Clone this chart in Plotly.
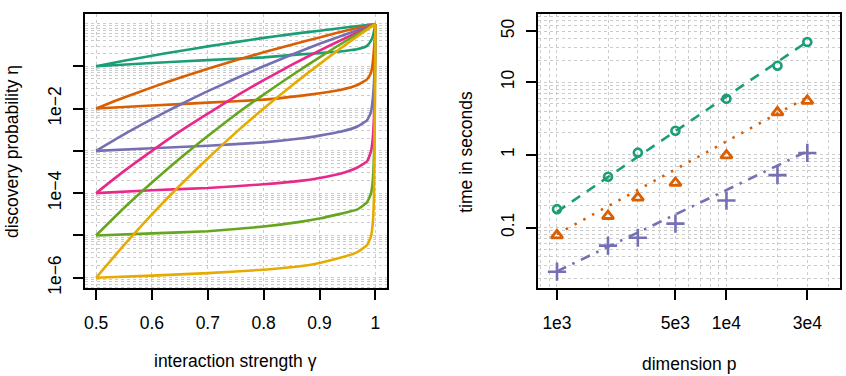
import plotly.graph_objects as go

# ---------------- data: left panel ----------------
gamma_upper = [0.5, 0.55, 0.6, 0.65, 0.7, 0.75, 0.8, 0.85, 0.9, 0.95, 1.0]
# log10 of discovery probability (upper curves)
up_teal   = [-1, -0.87, -0.75, -0.64, -0.53, -0.43, -0.33, -0.24, -0.16, -0.08, 0]
up_orange = [-2, -1.74, -1.50, -1.27, -1.06, -0.86, -0.67, -0.49, -0.32, -0.15, 0]
up_purple = [-3, -2.61, -2.25, -1.91, -1.59, -1.29, -1.00, -0.73, -0.47, -0.23, 0]
up_pink   = [-4, -3.48, -3.00, -2.54, -2.12, -1.71, -1.33, -0.97, -0.63, -0.31, 0]
up_green  = [-5, -4.35, -3.75, -3.18, -2.65, -2.14, -1.67, -1.22, -0.79, -0.38, 0]
up_yellow = [-6, -5.23, -4.50, -3.82, -3.18, -2.57, -2.00, -1.46, -0.95, -0.46, 0]

gamma_lower = [0.5, 0.6, 0.7, 0.8, 0.865, 0.9, 0.937, 0.967, 0.985, 0.992, 0.9953, 0.9975, 0.999, 1.0]
lo_teal   = [-1, -0.925, -0.855, -0.79, -0.72, -0.69, -0.65, -0.60, -0.52, -0.40, -0.30, -0.18, -0.08, 0]
lo_orange = [-2, -1.93, -1.86, -1.79, -1.70, -1.64, -1.56, -1.45, -1.31, -1.16, -0.92, -0.60, -0.35, 0]
lo_purple = [-3, -2.94, -2.88, -2.80, -2.71, -2.64, -2.55, -2.43, -2.28, -2.09, -1.78, -1.40, -0.90, 0]
lo_pink   = [-4, -3.93, -3.88, -3.79, -3.71, -3.64, -3.54, -3.40, -3.25, -3.02, -2.71, -2.20, -1.30, 0]
lo_green  = [-5, -4.95, -4.90, -4.79, -4.68, -4.60, -4.49, -4.39, -4.22, -4.02, -3.71, -3.10, -1.80, 0]
lo_yellow = [-6, -5.95, -5.89, -5.81, -5.73, -5.65, -5.53, -5.40, -5.23, -5.03, -4.72, -4.10, -2.20, 0]

colors = ["#1B9E77", "#D95F02", "#7570B3", "#E7298A", "#66A61E", "#E6AB02"]
upper = [up_teal, up_orange, up_purple, up_pink, up_green, up_yellow]
lower = [lo_teal, lo_orange, lo_purple, lo_pink, lo_green, lo_yellow]

left_yticks = [1e-6, 1e-5, 1e-4, 1e-3, 1e-2, 1e-1]
left_yticktext = ["1e\u22126", "", "1e\u22124", "", "1e\u22122", ""]
left_xticks = [0.5, 0.6, 0.7, 0.8, 0.9, 1.0]
left_xticktext = ["0.5", "0.6", "0.7", "0.8", "0.9", "1"]

# ---------------- data: right panel ----------------
dims = [1000, 2000, 3000, 5000, 10000, 20000, 30000]
time_teal   = [0.179, 0.50, 1.07, 2.14, 5.89, 16.8, 35.5]
time_orange = [0.078, 0.144, 0.257, 0.41, 0.98, 3.84, 5.53]
time_purple = [0.0247, 0.0564, 0.0723, 0.113, 0.235, 0.526, 1.06]
fit_dims = [1000, 30000]
fit_teal   = [0.165, 36.0]
fit_orange = [0.081, 6.2]
fit_purple = [0.025, 1.12]

right_xticks = [1000, 5000, 10000, 30000]
right_xticktext = ["1e3", "5e3", "1e4", "3e4"]
right_yticks = [0.1, 1, 10, 50]
right_yticktext = ["0.1", "1", "10", "50"]

# ---------------- figure ----------------
FONT = "Liberation Sans, Arial, sans-serif"
FS = 17.5
GRID = "#cbcbcb"
LW = 2.6

fig = go.Figure()

for c, u, l in zip(colors, upper, lower):
    fig.add_trace(go.Scatter(x=gamma_upper, y=[10 ** v for v in u], mode="lines",
                             line=dict(color=c, width=LW, shape="spline", smoothing=0.6),
                             xaxis="x", yaxis="y"))
    fig.add_trace(go.Scatter(x=gamma_lower, y=[10 ** v for v in l], mode="lines",
                             line=dict(color=c, width=LW, shape="spline", smoothing=0.4),
                             xaxis="x", yaxis="y"))

fig.add_trace(go.Scatter(x=fit_dims, y=fit_teal, mode="lines",
                         line=dict(color=colors[0], width=LW, dash="10px,8px"),
                         xaxis="x2", yaxis="y2"))
fig.add_trace(go.Scatter(x=fit_dims, y=fit_orange, mode="lines",
                         line=dict(color=colors[1], width=LW, dash="2.5px,7.5px"),
                         xaxis="x2", yaxis="y2"))
fig.add_trace(go.Scatter(x=fit_dims, y=fit_purple, mode="lines",
                         line=dict(color=colors[2], width=LW, dash="10px,7px,2.5px,7px"),
                         xaxis="x2", yaxis="y2"))
fig.add_trace(go.Scatter(x=dims, y=time_teal, mode="markers",
                         marker=dict(symbol="circle-open", size=8, color=colors[0],
                                     line=dict(width=2.6, color=colors[0])),
                         xaxis="x2", yaxis="y2"))
fig.add_trace(go.Scatter(x=dims, y=time_orange, mode="markers",
                         marker=dict(symbol="triangle-up-open", size=10, color=colors[1],
                                     line=dict(width=2.8, color=colors[1])),
                         xaxis="x2", yaxis="y2"))
fig.add_trace(go.Scatter(x=dims, y=time_purple, mode="markers",
                         marker=dict(symbol="cross-thin-open", size=13, color=colors[2],
                                     line=dict(width=2.6, color=colors[2])),
                         xaxis="x2", yaxis="y2"))

# grid positions (all k*10^n)
def log_grid(lo, hi):
    out = []
    for n in range(lo, hi + 1):
        for k in range(1, 10):
            out.append(k * 10.0 ** n)
    return out

W, H = 846, 376
ydom = [(H - 293) / H, (H - 14) / H]

axis_common = dict(showline=True, mirror=True, linecolor="black", linewidth=1.5,
                   ticks="outside", ticklen=10, tickwidth=1.5, tickcolor="black",
                   showgrid=True, gridcolor=GRID, griddash="3px,3px", gridwidth=1,
                   zeroline=False, tickfont=dict(family=FONT, size=FS, color="black"))
minor_common = dict(tickmode="array", showgrid=True, gridcolor=GRID,
                    griddash="3px,3px", gridwidth=1, ticklen=0)

fig.update_layout(
    width=W, height=H, margin=dict(l=0, r=0, t=0, b=0),
    paper_bgcolor="white", plot_bgcolor="white", showlegend=False,
    xaxis=dict(domain=[84 / W, 386 / W], range=[0.48, 1.02], tickmode="array",
               tickvals=left_xticks, ticktext=left_xticktext, anchor="y",
               ticklabelstandoff=8, **axis_common),
    yaxis=dict(domain=ydom, type="log", range=[-6.25, 0.24], tickmode="array",
               tickvals=left_yticks, ticktext=left_yticktext, tickangle=-90, anchor="x",
               ticklabelstandoff=5,
               minor=dict(tickvals=log_grid(-7, 0), **minor_common),
               **axis_common),
    xaxis2=dict(domain=[537.3 / W, 840 / W], type="log", range=[2.886, 4.670],
                tickmode="array", tickvals=right_xticks, ticktext=right_xticktext, anchor="y2",
                ticklabelstandoff=8,
                minor=dict(tickvals=log_grid(2, 4), **minor_common),
                **axis_common),
    yaxis2=dict(domain=ydom, type="log", range=[-1.836, 1.939], tickmode="array",
                tickvals=right_yticks, ticktext=right_yticktext, tickangle=-90, anchor="x2",
                ticklabelstandoff=5,
                minor=dict(tickvals=log_grid(-2, 1), **minor_common),
                **axis_common),
)

ann_font = dict(family=FONT, size=FS, color="black")
fig.add_annotation(text="interaction strength \u03b3", xref="paper", yref="paper",
                   x=235 / W, y=1 - 367 / H, showarrow=False, font=ann_font,
                   xanchor="center", yanchor="middle")
fig.add_annotation(text="dimension p", xref="paper", yref="paper",
                   x=688.7 / W, y=1 - 370 / H, showarrow=False, font=ann_font,
                   xanchor="center", yanchor="middle")
fig.add_annotation(text="discovery probability \u03b7", xref="paper", yref="paper",
                   x=11 / W, y=1 - 153.5 / H, showarrow=False, font=ann_font, textangle=-90,
                   xanchor="center", yanchor="middle")
fig.add_annotation(text="time in seconds", xref="paper", yref="paper",
                   x=466 / W, y=1 - 153.8 / H, showarrow=False, font=ann_font, textangle=-90,
                   xanchor="center", yanchor="middle")

fig.write_html("out.html")
